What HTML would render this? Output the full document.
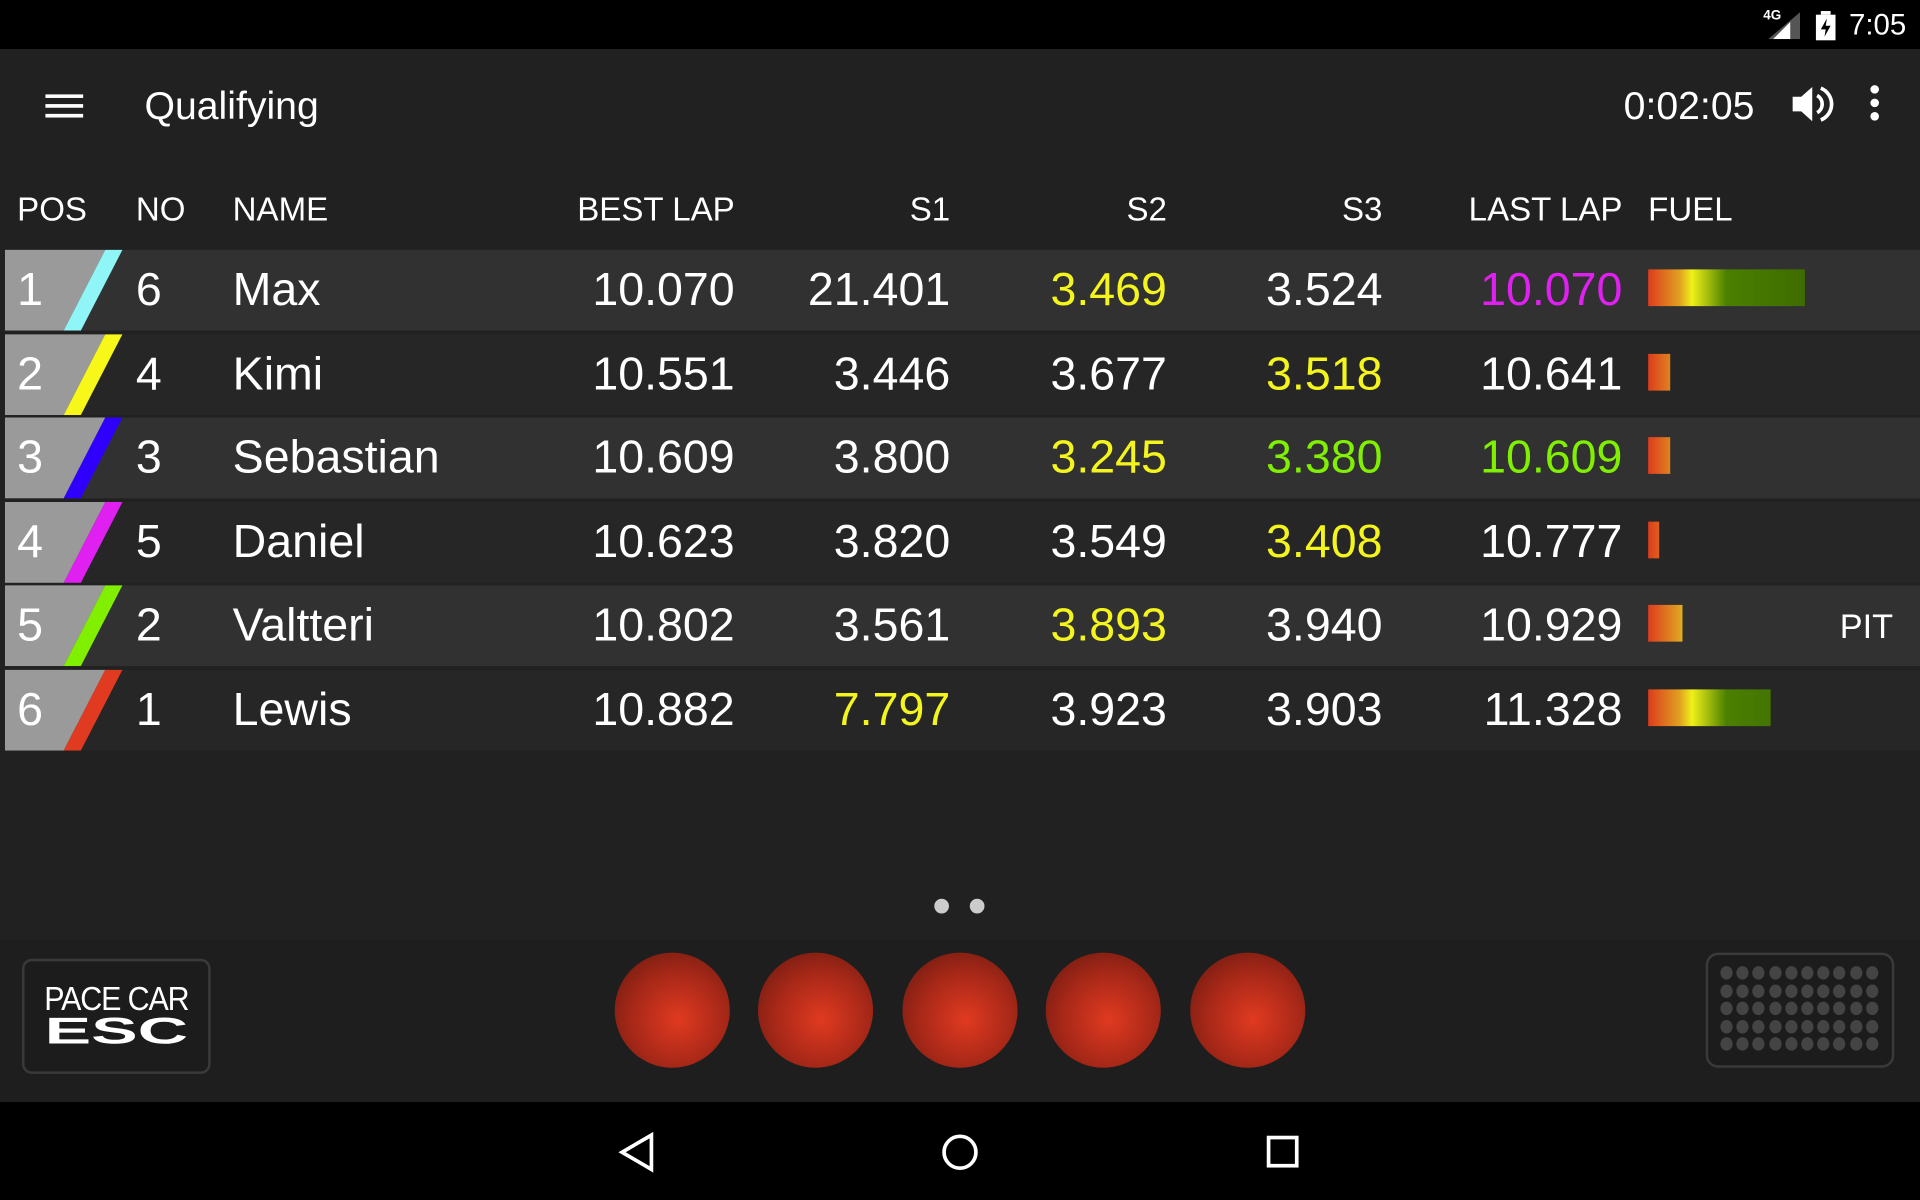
<!DOCTYPE html>
<html><head><meta charset="utf-8">
<style>
html,body{margin:0;padding:0;background:#000;overflow:hidden;}
#wrap{width:1568px;height:980px;transform:scale(1.22449);transform-origin:0 0;position:relative;background:#212121;font-family:"Liberation Sans",sans-serif;color:#fff;}
.abs{position:absolute;}
</style></head>
<body>
<div id="wrap">
<div class="abs" style="left:0;top:0;width:1568px;height:40px;background:#000;">
  <span class="abs" style="left:1440px;top:7px;font-size:11px;font-weight:bold;">4G</span>
  <svg class="abs" style="left:1444px;top:10px" width="26" height="22"><polygon points="26,0 26,22 0,22" fill="#555"/><polygon points="18,8 18,22 4,22" fill="#fff"/></svg>
  <svg class="abs" style="left:1482px;top:9px" width="18" height="24"><rect x="5" y="0" width="8" height="3" fill="#fff"/><rect x="1" y="3" width="16" height="21" fill="#fff"/><polygon points="10,6 5,15 9,15 8,21 13,12 9,12" fill="#000"/></svg>
  <span class="abs" style="left:1510px;top:7px;font-size:24px;">7:05</span>
</div>
<div class="abs" style="left:0;top:40px;width:1568px;height:90px;">
  <svg class="abs" style="left:37px;top:37px" width="31" height="20"><rect y="0" width="31" height="3" fill="#fff"/><rect y="8" width="31" height="3" fill="#fff"/><rect y="16" width="31" height="3" fill="#fff"/></svg>
  <span class="abs" style="left:118px;top:28px;font-size:32px;">Qualifying</span>
  <span class="abs" style="left:1326px;top:28px;font-size:32px;">0:02:05</span>
  <svg class="abs" style="left:1462px;top:28px" width="36" height="34"><polygon points="2,11 9,11 18,3 18,31 9,23 2,23" fill="#fff"/><path d="M22 10 A8 8 0 0 1 22 24" stroke="#fff" stroke-width="3" fill="none"/><path d="M25 4 A14 14 0 0 1 25 30" stroke="#fff" stroke-width="3" fill="none"/></svg>
  <svg class="abs" style="left:1524px;top:29px" width="14" height="30"><circle cx="7" cy="4" r="3.5" fill="#fff"/><circle cx="7" cy="15" r="3.5" fill="#fff"/><circle cx="7" cy="26" r="3.5" fill="#fff"/></svg>
</div>
<div id="hdr" style="position:absolute;left:0;top:150px;width:1568px;height:44px;font-size:27px;"></div>
<div id="rows" class="abs" style="left:0;top:0;"></div>
<div class="abs" style="left:763px;top:734px;width:12px;height:12px;border-radius:6px;background:#ccc;"></div>
<div class="abs" style="left:792px;top:734px;width:12px;height:12px;border-radius:6px;background:#ccc;"></div>
<div class="abs" style="left:0;top:768px;width:1568px;height:132px;background:#1e1e1e;">
  <div class="abs" style="left:18px;top:15px;width:150px;height:90px;border:2px solid #3a3a3a;border-radius:8px;background:#1c1c1c;text-align:center;">
    <div style="font-size:27px;margin-top:16px;letter-spacing:-1px;transform:scaleX(0.92);">PACE CAR</div>
    <div style="font-size:30px;font-weight:bold;margin-top:-3px;transform:scaleX(1.9);line-height:28px;">ESC</div>
  </div>
  <div id="lights"></div>
  <div id="pad" class="abs" style="left:1393px;top:10px;width:150px;height:90px;border:2px solid #3a3a3a;border-radius:10px;background:#1c1c1c;"></div>
</div>
<div class="abs" style="left:0;top:900px;width:1568px;height:80px;background:#000;">
  <svg class="abs" style="left:504px;top:24px" width="32" height="34"><polygon points="28,3 28,31 4,17" stroke="#fff" stroke-width="3" fill="none"/></svg>
  <svg class="abs" style="left:767px;top:24px" width="34" height="34"><circle cx="17" cy="17" r="13" stroke="#fff" stroke-width="3" fill="none"/></svg>
  <svg class="abs" style="left:1033px;top:26px" width="30" height="30"><rect x="3" y="3" width="23" height="23" stroke="#fff" stroke-width="3" fill="none"/></svg>
</div>
</div>
<script>
const positions=[1,2,3,4,5,6];
const carNumbers=[6,4,3,5,2,1];
const names=["Max","Kimi","Sebastian","Daniel","Valtteri","Lewis"];
const bestLaps=["10.070","10.551","10.609","10.623","10.802","10.882"];
const s1=["21.401","3.446","3.800","3.820","3.561","7.797"];
const s2=["3.469","3.677","3.245","3.549","3.893","3.923"];
const s3=["3.524","3.518","3.380","3.408","3.940","3.903"];
const lastLaps=["10.070","10.641","10.609","10.777","10.929","11.328"];
const fuel=[100,14,14,7,22,78];
const pit=["","","","","PIT",""];
const teamColors=["#8ff5f7","#f7f71a","#3000ff","#e020f0","#80f000","#e03a20"];
const s1Col=["w","w","w","w","w","y"];
const s2Col=["y","w","y","w","y","w"];
const s3Col=["w","y","g","y","w","w"];
const lastCol=["m","w","g","w","w","w"];
const C={w:"#fff",y:"#f5f51e",g:"#80f000",m:"#e020f0"};
const hdr=document.getElementById('hdr');
const heads=[["POS",14,"left"],["NO",111,"left"],["NAME",190,"left"],["BEST LAP",600,"right"],["S1",776,"right"],["S2",953,"right"],["S3",1129,"right"],["LAST LAP",1325,"right"],["FUEL",1346,"left"]];
heads.forEach(h=>{const s=document.createElement('span');


s.textContent=h[0];s.style.position='absolute';s.style.top='6px';
if(h[2]=='left')s.style.left=h[1]+'px';else s.style.right=(1568-h[1])+'px';hdr.appendChild(s);});
const rows=document.getElementById('rows');
const rowTop=204,rowStep=68.5,rowH=66,fuelMax=128;
positions.forEach((p,i)=>{
 const r=document.createElement('div');
 
 
 const y=rowTop+i*rowStep;
 r.style.cssText=`position:absolute;left:4px;top:${y}px;width:1564px;height:${rowH}px;background:${i%2?'#262626':'#313131'};font-size:38px;`;
 r.innerHTML=`<svg style="position:absolute;left:0;top:0" width="100" height="${rowH}"><polygon points="0,0 82,0 48,${rowH} 0,${rowH}" fill="#9a9a9a"/><polygon points="82,0 96,0 62,${rowH} 48,${rowH}" fill="${teamColors[i]}"/></svg>`;
 const cells=[[p,10,'left','w','position'],[carNumbers[i],107,'left','w','car-number'],[names[i],186,'left','w','driver-name'],[bestLaps[i],596,'right','w','best-lap'],[s1[i],772,'right',s1Col[i],'sector-1'],[s2[i],949,'right',s2Col[i],'sector-2'],[s3[i],1125,'right',s3Col[i],'sector-3'],[lastLaps[i],1321,'right',lastCol[i],'last-lap']];
 cells.forEach(c=>{const s=document.createElement('span');
  
  
  s.textContent=c[0];s.style.position='absolute';s.style.top='12px';s.style.color=C[c[3]];
  if(c[2]=='left')s.style.left=c[1]+'px';else s.style.right=(1564-c[1])+'px';r.appendChild(s);});
 const f=document.createElement('div');
 
 
 const w=fuel[i]/100*fuelMax;
 f.style.cssText=`position:absolute;left:1342px;top:16px;height:30px;width:${w}px;background:linear-gradient(90deg,#dc3c1e 0px,#e0a020 ${fuelMax*0.2}px,#f0f01a ${fuelMax*0.28}px,#4a8000 ${fuelMax*0.5}px,#3e6c00 ${fuelMax}px);background-size:${fuelMax}px 30px;`;
 r.appendChild(f);
 if(pit[i]){const t=document.createElement('span');
  
  
  t.textContent=pit[i];t.style.cssText='position:absolute;right:22px;top:18px;font-size:28px;';r.appendChild(t);}
 rows.appendChild(r);
});
const lights=document.getElementById('lights');
[549,666,784,901,1019].forEach((x,k)=>{const d=document.createElement('div');
 
 
 d.style.cssText=`position:absolute;left:${x-47}px;top:10px;width:94px;height:94px;border-radius:50%;background:radial-gradient(circle at 55% 58%,#e03a20 0%,#a82818 50%,#5e180e 100%);`;
 lights.appendChild(d);});
const pad=document.getElementById('pad');
for(let r=0;r<5;r++)for(let c=0;c<10;c++){const d=document.createElement('div');
 
 
 d.style.cssText=`position:absolute;left:${10+c*13.2}px;top:${9+r*14.6}px;width:10px;height:11px;border-radius:50%;background:#444;`;
 pad.appendChild(d);}
</script>
</body></html>
